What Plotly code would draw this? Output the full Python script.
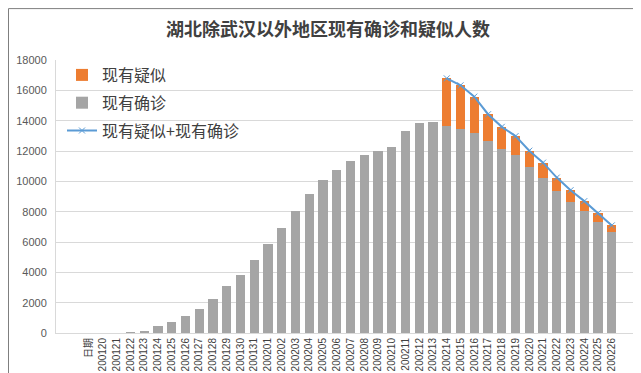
import plotly.graph_objects as go

dates = ["日期",
         "200120", "200121", "200122", "200123", "200124", "200125", "200126",
         "200127", "200128", "200129", "200130", "200131",
         "200201", "200202", "200203", "200204", "200205", "200206", "200207",
         "200208", "200209", "200210", "200211", "200212", "200213", "200214",
         "200215", "200216", "200217", "200218", "200219", "200220", "200221",
         "200222", "200223", "200224", "200225", "200226"]

confirmed = [None,
             0, 0, 45, 150, 440, 700, 1120,
             1580, 2250, 3075, 3845, 4835,
             5845, 6955, 8020, 9190, 10090, 10770, 11340,
             11730, 11970, 12235, 13350, 13835, 13880, 13680,
             13440, 13175, 12630, 12125, 11710, 10920, 10226,
             9372, 8650, 8037, 7336, 6635]

suspected = [None,
             None, None, None, None, None, None, None,
             None, None, None, None, None,
             None, None, None, None, None, None, None,
             None, None, None, None, None, None, 3110,
             2890, 2410, 1795, 1467, 1270, 1100, 1007,
             876, 766, 657, 569, 460]

total = [None if s is None else c + s for c, s in zip(confirmed, suspected)]

fig = go.Figure()
fig.add_trace(go.Bar(x=dates, y=confirmed, name="现有确诊",
                     marker=dict(color="#A5A5A5", line=dict(width=0)),
                     legendrank=2, legendgroup="b"))
fig.add_trace(go.Bar(x=dates, y=suspected, name="现有疑似",
                     marker=dict(color="#ED7D31", line=dict(width=0)),
                     legendrank=1, legendgroup="a"))
fig.add_trace(go.Scatter(x=dates, y=total, name="现有疑似+现有确诊",
                         mode="lines+markers",
                         line=dict(color="#5B9BD5", width=2),
                         marker=dict(symbol="x-thin", size=6,
                                     line=dict(color="#5B9BD5", width=1)),
                         legendrank=3, legendgroup="c"))

L, R, T, B = 48, 4, 52, 47.5
W, H = 641, 373
pw = W - L - R
ph = H - T - B

fig.update_layout(
    width=W, height=H,
    margin=dict(l=L, r=R, t=T, b=B),
    barmode="stack",
    bargap=0.33,
    paper_bgcolor="white",
    plot_bgcolor="white",
    font=dict(family="Noto Sans CJK SC, Liberation Sans, sans-serif", color="#595959"),
    title=dict(text="<b>湖北除武汉以外地区现有确诊和疑似人数</b>",
               x=320 / W, xanchor="center", y=1 - 22 / H, yanchor="middle",
               font=dict(size=18, color="#404040",
                         family="Noto Sans CJK SC, sans-serif")),
    legend=dict(x=(54 - L) / pw, y=1 - (50 - T) / ph, xanchor="left", yanchor="top",
                traceorder="grouped", tracegroupgap=4,
                bgcolor="rgba(0,0,0,0)",
                font=dict(size=16, color="#404040",
                          family="Noto Sans CJK SC, sans-serif")),
    xaxis=dict(type="category", tickangle=-90, showgrid=False,
               showline=True, linecolor="#D9D9D9", linewidth=1,
               ticks="", tickfont=dict(size=10, color="#404040",
                                       family="Liberation Sans, Noto Sans CJK SC, sans-serif")),
    yaxis=dict(range=[0, 18000], dtick=2000, tickformat="d",
               showgrid=True, gridcolor="#D9D9D9",
               gridwidth=1, showline=True, linecolor="#D9D9D9", linewidth=1,
               zeroline=False, ticks="", ticklabelstandoff=6,
               tickfont=dict(size=11, color="#595959",
                             family="Liberation Sans, sans-serif")),
    showlegend=True,
)

fig.add_shape(type="rect", xref="paper", yref="paper",
              x0=(0.5 - L) / pw, x1=(W - 0.5 - L) / pw,
              y0=(H - B - (H - 0.5)) / ph, y1=(H - B - 0.5) / ph,
              line=dict(color="#7F7F7F", width=1), fillcolor="rgba(0,0,0,0)",
              layer="above")

fig.write_html("out.html")
